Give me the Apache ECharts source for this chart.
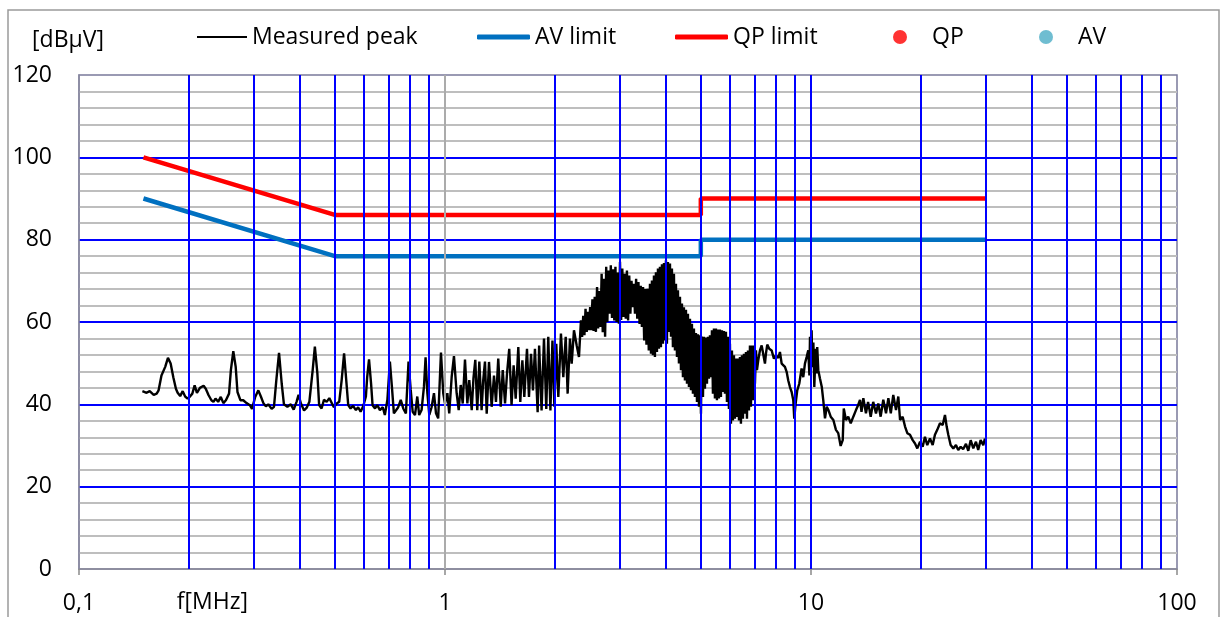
<!DOCTYPE html>
<html>
<head>
<meta charset="utf-8">
<script src="https://cdn.jsdelivr.net/npm/echarts@6/dist/echarts.min.js"></script>
<style>
html,body{margin:0;padding:0;background:#fff;}
#chart{width:1223px;height:617px;}
</style>
</head>
<body>
<div id="chart"></div>
<script>
// ---------------- DATA ----------------
// Measured peak trace, frequency in MHz, level in dBµV
const freqBand1 = [0.149,0.153,0.156,0.160,0.163,0.165,0.168,0.172,0.175,0.178,0.181,0.184,0.186,0.189,0.192,0.195,0.198,0.201,0.204,0.207,0.210,0.214,0.219,0.222,0.226,0.230,0.233,0.236,0.240,0.244,0.248,0.252,0.257,0.260,0.264,0.268,0.271,0.276,0.281,0.287,0.293,0.297,0.303,0.309,0.314,0.319,0.324,0.329,0.336,0.341,0.346,0.352,0.358,0.363,0.371,0.379,0.386,0.393,0.398,0.404,0.412,0.419,0.426];
const levelBand1 = [43.2,42.8,43.2,42.3,42.6,43.4,47.0,49.1,51.3,49.9,46.6,43.8,42.8,42.0,43.2,41.9,41.4,41.9,42.6,44.6,42.8,44.0,44.5,43.8,42.2,41.0,40.6,41.4,40.6,41.8,40.3,41.0,42.6,48.3,52.9,49.1,43.0,41.0,41.0,40.3,39.8,38.9,41.8,43.4,41.9,40.3,39.5,40.0,38.9,39.4,45.8,52.5,45.0,40.0,39.4,40.0,38.7,40.6,42.3,40.2,38.5,39.2,40.6];

const freqBand2 = [0.435,0.441,0.448,0.453,0.460,0.467,0.475,0.483,0.490,0.497,0.506,0.514,0.522,0.530,0.539,0.544,0.552,0.561,0.571,0.579,0.588,0.598,0.608,0.613,0.620,0.628,0.634,0.644,0.653,0.664,0.676,0.685,0.696,0.707,0.716,0.725,0.734,0.745,0.757,0.769,0.782,0.795,0.806,0.816,0.828,0.840,0.850,0.863,0.876,0.885,0.895,0.906,0.919,0.933,0.945,0.958,0.975,0.989,1.000,1.015,1.027,1.043,1.058,1.076,1.090,1.104,1.118,1.134,1.151,1.165,1.183,1.196,1.210,1.225,1.241,1.259,1.272,1.286];
const levelBand2 = [48.3,54.0,47.5,39.8,39.0,41.1,40.6,41.5,40.4,39.3,40.2,40.6,45.9,52.4,44.3,39.8,39.0,39.6,38.6,39.3,38.2,39.6,41.9,46.7,50.9,45.1,39.8,39.0,39.8,38.6,39.3,37.4,41.1,50.4,44.3,37.8,37.4,39.3,41.1,39.0,37.8,50.4,43.5,38.2,37.4,41.9,37.4,38.6,44.3,51.4,42.7,37.4,39.3,42.7,37.8,36.6,52.6,42.7,40.2,42.7,37.8,46.7,51.7,42.7,38.6,44.7,40.2,50.9,40.2,45.9,38.6,46.3,50.8,38.6,50.4,38.6,45.9,50.4];

const freqBand3 = [1.300,1.319,1.341,1.361,1.378,1.398,1.420,1.438,1.459,1.477,1.498,1.520,1.540,1.560,1.586,1.606,1.627,1.647,1.675,1.696,1.718,1.739,1.761,1.791,1.808,1.836,1.864,1.891,1.915,1.941,1.966,1.990,2.014,2.040,2.074,2.105,2.137,2.163,2.195,2.219,2.251,2.290,2.323];
const levelBand3 = [37.7,50.3,39.4,47.0,40.6,51.1,39.4,48.3,40.2,47.4,53.5,39.8,49.5,41.4,53.9,40.6,50.7,41.8,53.5,41.8,52.3,43.4,53.5,38.1,54.3,38.5,56.0,38.9,56.4,38.5,55.5,39.4,54.7,41.8,57.2,46.6,56.4,42.6,56.0,49.9,58.0,54.3,51.5];

const freqBand3b = [2.352,2.369,2.386,2.404,2.421,2.439,2.456,2.474,2.492,2.510,2.528,2.547,2.565,2.584,2.603,2.621,2.640,2.660,2.679,2.698,2.718,2.738,2.757,2.777,2.798,2.818,2.838,2.859,2.880,2.901,2.922,2.943,2.964,2.986,3.007,3.029,3.051,3.073,3.096,3.118,3.141,3.164,3.187,3.210,3.233,3.257,3.280,3.304,3.328,3.352,3.377,3.401,3.426,3.451,3.476,3.501,3.527,3.552,3.578,3.604];
const levelBand3b = [60.4,56.4,61.5,56.8,63.2,57.6,62.5,58.0,63.6,58.0,65.5,57.8,66.1,57.6,68.5,58.4,67.5,58.8,71.7,57.5,70.5,56.4,73.4,60.0,72.5,62.0,73.8,61.0,72.8,60.4,73.4,60.0,72.0,59.6,74.6,60.5,73.0,61.2,71.7,60.8,72.5,60.4,71.3,62.0,70.0,63.6,69.3,62.0,70.5,60.8,69.7,59.5,68.8,58.8,68.5,55.5,68.0,54.5,68.1,53.1];

const freqBand4 = [3.631,3.654,3.676,3.699,3.723,3.746,3.770,3.794,3.818,3.842,3.866,3.890,3.915,3.940,3.965,3.990,4.015,4.040,4.066,4.092,4.118,4.144,4.169,4.195,4.222,4.249,4.276,4.303,4.330,4.357,4.385,4.413,4.440,4.468,4.496,4.524,4.554,4.583,4.611,4.640,4.670,4.699,4.728,4.758,4.788,4.818,4.849,4.880,4.911,4.942,4.973,5.004,5.036,5.068,5.099,5.131,5.164,5.197,5.230,5.263,5.296,5.329,5.362,5.396,5.430,5.464,5.499,5.534,5.569,5.604,5.639,5.675,5.711,5.747,5.783,5.819,5.856,5.893,5.930,5.967,6.005,6.043,6.081,6.119,6.158,6.197,6.237,6.276,6.315,6.355,6.395,6.435,6.476,6.517,6.558,6.599,6.642,6.684,6.726,6.768,6.811,6.854,6.897,6.940,6.984,7.028,7.073,7.118];
const levelBand4 = [69.3,52.3,70.1,51.9,71.3,51.5,72.1,52.7,73.0,53.5,73.4,53.9,74.0,54.7,74.3,55.5,75.0,54.7,74.6,57.6,74.2,56.4,73.0,53.9,71.7,53.1,69.3,51.5,67.7,49.9,66.1,48.3,64.5,46.6,63.6,45.8,63.0,45.0,62.0,44.2,60.8,43.4,59.6,42.6,58.4,41.8,57.3,40.6,57.0,39.4,56.8,37.7,56.5,41.8,56.4,43.8,56.2,45.0,56.4,46.2,56.8,46.6,58.0,42.6,58.4,41.4,58.4,41.0,58.2,41.4,58.2,41.8,58.0,43.0,57.8,42.6,57.6,40.6,56.4,38.9,54.7,35.3,53.1,36.1,51.9,36.5,51.1,36.9,51.1,36.1,51.5,35.3,51.9,36.5,52.3,37.7,52.7,36.5,53.1,38.5,54.3,39.4,54.3,41.0,54.3,45.0,53.1,48.3];

const freqBand5 = [7.176,7.253,7.332,7.405,7.485,7.532,7.594,7.690,7.806,7.920,8.021,8.145,8.225,8.315,8.488,8.579,8.667,8.759,8.854,8.945,9.000,9.079,9.171,9.287,9.425,9.525,9.626,9.729,9.830,9.900,9.937,9.980,10.04,10.08,10.15,10.21,10.30,10.36,10.40,10.47];
const levelBand5 = [50.7,53.1,54.3,53.9,49.9,52.3,54.5,53.5,53.1,51.1,51.9,51.3,52.7,49.9,49.1,47.9,45.8,44.2,43.0,41.0,36.5,40.2,43.4,45.0,48.7,46.6,49.9,51.5,53.1,47.0,56.4,50.0,58.0,49.0,55.0,44.2,53.5,47.5,53.9,48.3];

const freqBand6 = [10.58,10.70,10.80,10.92,11.04,11.16,11.32,11.51,11.70,11.87,12.05,12.21,12.29,12.46,12.64,12.84,13.05,13.27,13.45,13.61,13.74,13.90,14.13,14.32,14.56,14.79,15.05,15.27,15.50,15.76,16.03,16.27,16.52,16.78,17.07,17.32,17.51,17.80,18.07,18.33,18.64,18.96,19.24,19.52,19.86,20.19,20.48,20.78,21.14,21.50,21.81,22.13,22.51,22.90,23.23,23.48,23.72,24.07,24.48,24.89,25.25,25.64,26.04,26.51,26.90,27.31,27.76,28.23,28.63,29.07,29.56,29.87];
const levelBand6 = [46.3,44.3,41.1,36.6,39.4,38.6,37.0,36.2,33.8,33.0,29.9,31.3,39.0,36.2,37.0,35.4,37.0,38.6,39.8,41.1,38.2,41.5,37.8,40.6,37.0,40.6,37.8,40.2,37.0,41.1,37.8,41.5,37.8,42.3,38.6,41.9,36.2,37.0,34.6,33.0,32.6,31.3,30.5,29.3,30.9,29.7,32.1,30.1,31.7,30.1,32.6,33.8,35.4,35.0,37.4,34.6,32.6,30.1,29.3,30.1,28.9,29.7,29.1,30.4,28.7,31.3,29.3,30.9,28.9,31.3,30.1,31.7];

// Limit lines
const qpLimitFreq  = [0.15, 0.5, 5, 5, 30];
const qpLimitLevel = [100, 86, 86, 90, 90];
const avLimitFreq  = [0.15, 0.5, 5, 5, 30];
const avLimitLevel = [90, 76, 76, 80, 80];

// QP / AV measured points (none shown in the picture)
const qpPoints = [];
const avPoints = [];

// Vertical grid lines
const gridFreqBlue = [0.2,0.3,0.4,0.5,0.6,0.7,0.8,0.9,2,3,4,5,6,7,8,9,10,20,30,40,50,60,70,80,90];
const gridFreqGray = [1];

// ---------------- BUILD ----------------
const zip = (f, l) => f.map((v, i) => [v, l[i]]);
const peakData = [].concat(
  zip(freqBand1, levelBand1), zip(freqBand2, levelBand2), zip(freqBand3, levelBand3),
  zip(freqBand3b, levelBand3b), zip(freqBand4, levelBand4), zip(freqBand5, levelBand5),
  zip(freqBand6, levelBand6)
);

const FONT = 'Open Sans';
const FS = 23;
const txt = {fontFamily: FONT, fontSize: FS, color: '#000'};

const chart = echarts.init(document.getElementById('chart'), null, {renderer: 'canvas'});

const legendBase = {
  top: 24, padding: 0, orient: 'horizontal', selectedMode: false,
  textStyle: Object.assign({lineHeight: 26}, txt)
};

chart.setOption({
  animation: false,
  backgroundColor: '#ffffff',
  textStyle: {fontFamily: FONT},
  graphic: [{
    type: 'rect', silent: true, z: -10,
    shape: {x: 8, y: 10, width: 1211, height: 640},
    style: {fill: 'none', stroke: '#9a9a9a', lineWidth: 1.5}
  }],
  grid: {
    left: 79, right: 46, top: 75, bottom: 48,
    outerBoundsMode: 'none', containLabel: false,
    show: true, borderColor: '#7a7a9a', borderWidth: 1.5, backgroundColor: 'transparent'
  },
  legend: [
    Object.assign({}, legendBase, {data: ['Measured peak'], left: 197, icon: 'rect', itemWidth: 50, itemHeight: 2}),
    Object.assign({}, legendBase, {data: ['AV limit'], left: 477, icon: 'roundRect', itemWidth: 53, itemHeight: 5}),
    Object.assign({}, legendBase, {data: ['QP limit'], left: 675, icon: 'roundRect', itemWidth: 53, itemHeight: 5}),
    Object.assign({}, legendBase, {data: ['QP'], left: 893, icon: 'circle', itemWidth: 54, itemHeight: 14}),
    Object.assign({}, legendBase, {data: ['AV'], left: 1039, icon: 'circle', itemWidth: 54, itemHeight: 14})
  ],
  xAxis: {
    type: 'log', logBase: 10, min: 0.1, max: 100,
    name: 'f[MHz]', nameLocation: 'start', nameGap: -169,
    nameTextStyle: Object.assign({verticalAlign: 'top', lineHeight: 66}, txt),
    axisLine: {show: true, lineStyle: {color: '#8a8a9a', width: 1.5}},
    axisTick: {show: true, inside: false, length: 6, lineStyle: {color: '#8a8a8a', width: 1.5}},
    axisLabel: Object.assign({margin: 23, formatter: v => String(Number(v.toPrecision(6))).replace('.', ',')}, txt),
    splitLine: {show: false},
    minorTick: {show: false},
    minorSplitLine: {show: false}
  },
  yAxis: {
    type: 'value', min: 0, max: 120, interval: 20,
    name: '[dBµV]', nameLocation: 'end', nameGap: 22,
    nameTextStyle: Object.assign({padding: [0, 22, 0, 0], lineHeight: 26}, txt),
    axisLine: {show: true, lineStyle: {color: '#8a8aa0', width: 1.5}},
    axisTick: {show: false},
    axisLabel: Object.assign({margin: 27}, txt),
    splitLine: {show: true, showMinLine: false, showMaxLine: false, lineStyle: {color: '#0000FF', width: 2}},
    minorTick: {show: false, splitNumber: 5},
    minorSplitLine: {show: true, lineStyle: {color: '#BEBEBE', width: 2}}
  },
  series: [
    {
      name: 'grid', type: 'line', data: [], silent: true, z: 1,
      markLine: {
        silent: true, symbol: ['none', 'none'], label: {show: false},
        lineStyle: {color: '#0000FF', width: 2, type: 'solid'},
        emphasis: {disabled: true},
        data: gridFreqBlue.map(f => ({xAxis: f}))
          .concat(gridFreqGray.map(f => ({xAxis: f, lineStyle: {color: '#ABABAB', width: 2, type: 'solid'}})))
      }
    },
    {
      name: 'Measured peak', type: 'line', data: peakData, showSymbol: false, z: 3,
      color: '#000000', itemStyle: {color: '#000000'},
      lineStyle: {color: '#000000', width: 2.4, join: 'bevel'}
    },
    {
      name: 'AV limit', type: 'line', showSymbol: false, z: 4,
      data: zip(avLimitFreq, avLimitLevel),
      color: '#0070C0', itemStyle: {color: '#0070C0'},
      lineStyle: {color: '#0070C0', width: 4.5}
    },
    {
      name: 'QP limit', type: 'line', showSymbol: false, z: 4,
      data: zip(qpLimitFreq, qpLimitLevel),
      color: '#FF0000', itemStyle: {color: '#FF0000'},
      lineStyle: {color: '#FF0000', width: 4.5}
    },
    {name: 'QP', type: 'scatter', data: qpPoints, color: '#FF0000', itemStyle: {color: '#FF0000'}},
    {name: 'AV', type: 'scatter', data: avPoints, color: '#4BACC6', itemStyle: {color: '#4BACC6'}}
  ]
});
</script>
</body>
</html>
